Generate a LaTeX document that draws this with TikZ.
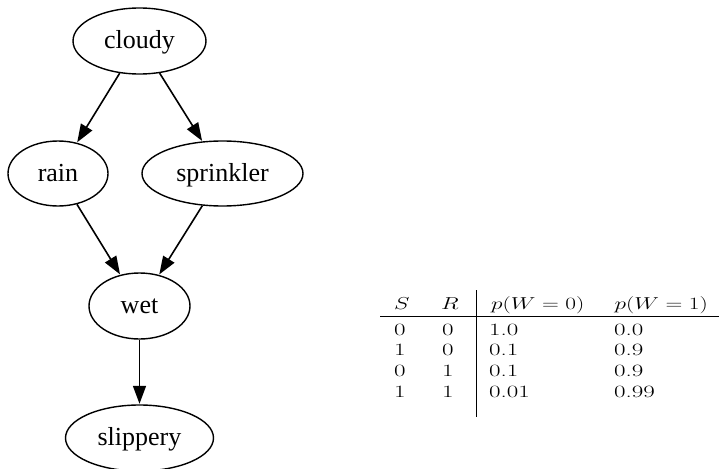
\documentclass[tikz,border=0pt]{standalone}
\usepackage{graphicx}
\usepackage{fontspec}
\newfontfamily\graphfont{Liberation Serif}
\usetikzlibrary{shapes.geometric,arrows.meta}
\newcommand{\mh}[1]{\scalebox{1.35}[1]{$#1$}}
\newcommand{\dg}[1]{\scalebox{1.45}[1]{#1}}
\begin{document}
\begin{tikzpicture}[x=1pt,y=-1pt,
  gnode/.style={draw,ellipse,line width=1.4pt,inner sep=0pt,
    font=\graphfont\fontsize{26}{30}\selectfont,text height=18pt,text depth=3pt},
  edge/.style={line width=1.6pt,-{Triangle[length=18pt,width=13pt]},shorten >=0.5pt},
  cell/.style={anchor=base west,inner sep=0pt,font=\fontsize{17.28}{20}\selectfont},
  rule/.style={line width=1pt}]
\useasboundingbox (0,0) rectangle (719,468);
\node[gnode,minimum width=133pt,minimum height=66pt] (cloudy) at (139.5,41) {cloudy};
\node[gnode,minimum width=100pt,minimum height=65pt] (rain) at (58,173.5) {rain};
\node[gnode,minimum width=161pt,minimum height=65pt] (sprinkler) at (222.5,173.5) {sprinkler};
\node[gnode,minimum width=101pt,minimum height=66pt] (wet) at (139.5,306) {wet};
\node[gnode,minimum width=148pt,minimum height=66pt] (slippery) at (139.5,438) {slippery};
\draw[edge] (cloudy) -- (rain);
\draw[edge] (cloudy) -- (sprinkler);
\draw[edge] (rain) -- (wet);
\draw[edge] (sprinkler) -- (wet);
\draw[edge] (wet) -- (slippery);
% table
\node[cell] (h1) at (394,309) {\mh{S}};
\node[cell] (h2) at (441,309) {\mh{R}};
\node[cell] (h3) at (491,309) {\mh{p(W=0)}};
\node[cell] (h4) at (614.5,309) {\mh{p(W=1)}};
\node[cell] (a1) at (394,335) {\dg{0}};
\node[cell] (a2) at (442,335) {\dg{0}};
\node[cell] (a3) at (489,335) {\dg{1.0}};
\node[cell] (a4) at (614,335) {\dg{0.0}};
\node[cell] (b1) at (394,355.7) {\dg{1}};
\node[cell] (b2) at (442,355.7) {\dg{0}};
\node[cell] (b3) at (489,355.7) {\dg{0.1}};
\node[cell] (b4) at (614,355.7) {\dg{0.9}};
\node[cell] (c1) at (394,376.7) {\dg{0}};
\node[cell] (c2) at (442,376.7) {\dg{1}};
\node[cell] (c3) at (489,376.7) {\dg{0.1}};
\node[cell] (c4) at (614,376.7) {\dg{0.9}};
\node[cell] (d1) at (394,397.7) {\dg{1}};
\node[cell] (d2) at (442,397.7) {\dg{1}};
\node[cell] (d3) at (489,397.7) {\dg{0.01}};
\node[cell] (d4) at (614,397.7) {\dg{0.99}};
\coordinate (hl) at (380,316);
\coordinate (hr) at (719,316);
\coordinate (vt) at (476,290);
\coordinate (vb) at (476,417);
\draw[rule] (hl) -- (hr);
\draw[rule] (vt) -- (vb);
\end{tikzpicture}
\end{document}
